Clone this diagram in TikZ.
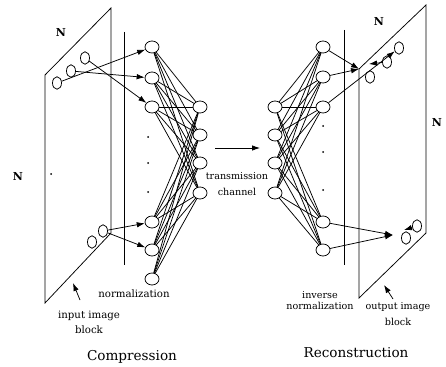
\documentclass[tikz,border=0pt]{standalone}
\usepackage{fontspec}
\setmainfont{DejaVu Serif}
\usetikzlibrary{arrows.meta,shapes.geometric}

\begin{document}
\begin{tikzpicture}[x=1pt, y=-1pt, line width=0.75pt,
  neuron/.style={draw, ellipse, minimum width=14pt, minimum height=12pt, inner sep=0pt},
  pixel/.style={draw, ellipse, minimum width=9pt, minimum height=12.5pt, inner sep=0pt},
  lbl/.style={align=center, font=\fontsize{10.2}{15}\selectfont, inner sep=0pt},
  dim/.style={font=\fontsize{11}{11}\selectfont\bfseries, inner sep=0pt},
  title/.style={font=\fontsize{13.6}{16}\selectfont, inner sep=0pt},
  arr/.style={-{Latex[length=8pt,width=5.5pt]}}]
\useasboundingbox (0,0) rectangle (446,366);

% image blocks and (inverse) normalization planes
\draw (45,75) -- (111,8) -- (111,233) -- (45,303) -- cycle;
\draw (124,32) -- (124,265);
\draw (344,30) -- (344,265);
\draw (359,69) -- (426,5) -- (426,233) -- (359,298) -- cycle;

% compression network
\foreach \i/\y in {1/47,2/78,3/107,4/222,5/250,6/279}
  \node[neuron] (in\i) at (152,\y) {};
\foreach \i/\y in {1/107,2/135,3/163,4/193}
  \node[neuron] (hl\i) at (200,\y) {};
\foreach \i in {1,...,6}
  \foreach \j in {1,...,4}
    \draw (in\i) -- (hl\j);

% reconstruction network
\foreach \i/\y in {1/107,2/135,3/163,4/193}
  \node[neuron] (hr\i) at (275,\y) {};
\foreach \i/\y in {1/47,2/77,3/107,4/222,5/250}
  \node[neuron] (out\i) at (323,\y) {};
\foreach \i in {1,...,4}
  \foreach \j in {1,...,5}
    \draw (hr\i) -- (out\j);

% pixels of the blocks
\node[pixel] (pin1) at (57,83) {};
\node[pixel] (pin2) at (71,71) {};
\node[pixel] (pin3) at (85,58) {};
\node[pixel] (pin4) at (92,242) {};
\node[pixel] (pin5) at (103,231) {};
\node[pixel] (pout1) at (399,48) {};
\node[pixel] (pout2) at (387,62) {};
\node[pixel] (pout3) at (370,77) {};
\node[pixel] (pout4) at (417,226) {};
\node[pixel] (pout5) at (406,238) {};

\coordinate (qa) at (359,69);
\coordinate (qb) at (369,64);
\coordinate (sa) at (393,235);
\coordinate (sb) at (404,230);

% arrows
\draw[arr] (pin1) -- (in1);
\draw[arr] (pin2) -- (in2);
\draw[arr] (pin3) -- (in3);
\draw[arr] (pin5) -- (in4);
\draw[arr] (pin5) -- (in5);
\draw[arr] (out1) -- (qa);
\draw[arr] (out2) -- (qa);
\draw[arr] (pout2) -- (qb);
\draw[arr] (out3) -- (pout1);
\draw[arr] (out4) -- (sa);
\draw[arr] (out5) -- (sa);
\draw[arr] (pout4) -- (sb);

% dots
\foreach \x/\y in {51/174,148/137,148/163,148/192,323/126,323/152,323/190}
  \fill (\x,\y) circle (1);

\node[lbl, font=\fontsize{9.6}{16}\selectfont] (chan) at (237,184) {transmission\\channel};
\coordinate (ca) at (215,148);
\coordinate (cb) at (260,148);
\draw[arr] (ca) -- (cb);

% labels
\node[dim] (n1) at (61,32) {N};
\node[dim] (n2) at (18,176) {N};
\node[dim] (n3) at (379,21) {N};
\node[dim] (n4) at (437,122) {N};
\node[lbl] (norm) at (134,294) {normalization};
\node[lbl] (inblk) at (89,322) {input image\\block};
\node[lbl, font=\fontsize{9.6}{11}\selectfont] (inorm) at (320,301) {inverse\\normalization};
\node[lbl, font=\fontsize{9.6}{16}\selectfont] (outblk) at (398,314) {output image\\block};
\coordinate (ia) at (80,300);
\coordinate (ib) at (73,283);
\draw[arr] (ia) -- (ib);
\coordinate (oa) at (393,299);
\coordinate (ob) at (384,285);
\draw[arr] (oa) -- (ob);
\node[title] (comp) at (132,357) {Compression};
\node[title] (rec) at (356,353) {Reconstruction};
\end{tikzpicture}
\end{document}
